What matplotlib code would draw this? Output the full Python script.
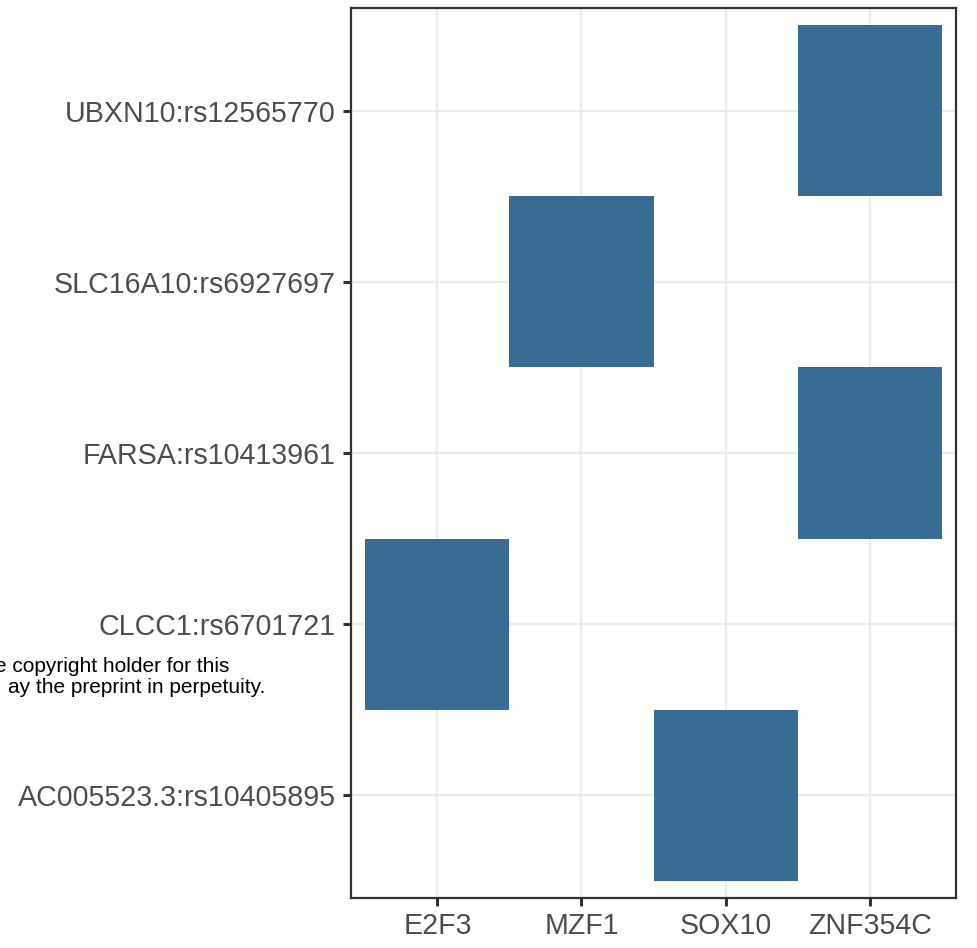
import matplotlib
matplotlib.use("Agg")
import matplotlib.pyplot as plt

x_categories = ["E2F3", "MZF1", "SOX10", "ZNF354C"]
y_categories = ["AC005523.3:rs10405895", "CLCC1:rs6701721", "FARSA:rs10413961",
                "SLC16A10:rs6927697", "UBXN10:rs12565770"]
tile_x = ["ZNF354C", "MZF1", "ZNF354C", "E2F3", "SOX10"]
tile_y = ["UBXN10:rs12565770", "SLC16A10:rs6927697", "FARSA:rs10413961",
          "CLCC1:rs6701721", "AC005523.3:rs10405895"]

plt.rcParams['font.family'] = ['Liberation Sans', 'DejaVu Sans']

W, H = 978, 948
fig = plt.figure(figsize=(W / 100, H / 100), dpi=100)
ax = fig.add_axes([351 / W, 1 - 898 / H, (956 - 351) / W, (898 - 8) / H])

xi = [x_categories.index(v) + 1 for v in tile_x]
yi = [y_categories.index(v) + 1 for v in tile_y]
ax.bar(xi, [1.0] * len(xi), bottom=[v - 0.5 for v in yi], width=1.0,
       color="#386C95", linewidth=0, zorder=2)

ax.set_xlim(0.4, len(x_categories) + 0.6)
ax.set_ylim(0.4, len(y_categories) + 0.6)
ax.set_xticks(range(1, len(x_categories) + 1))
ax.set_xticklabels(x_categories)
ax.set_yticks(range(1, len(y_categories) + 1))
ax.set_yticklabels(y_categories)

ax.grid(True, color="#EBEBEB", linewidth=1.6, zorder=0)
ax.set_axisbelow(True)
for s in ax.spines.values():
    s.set_color("#333333")
    s.set_linewidth(1.6)
    s.set_zorder(3)
ax.tick_params(axis="both", length=6, width=2.2, color="#333333",
               labelsize=20.6, labelcolor="#4D4D4D")
ax.tick_params(axis="x", pad=4)
ax.tick_params(axis="y", pad=5)

fig.text(229 / W, 1 - 672 / H, "e copyright holder for this", ha="right",
         va="baseline", fontsize=15, color="black")
fig.text(265 / W, 1 - 693 / H, "ay the preprint in perpetuity.", ha="right",
         va="baseline", fontsize=15, color="black")

fig.savefig("out.png", dpi=100)
